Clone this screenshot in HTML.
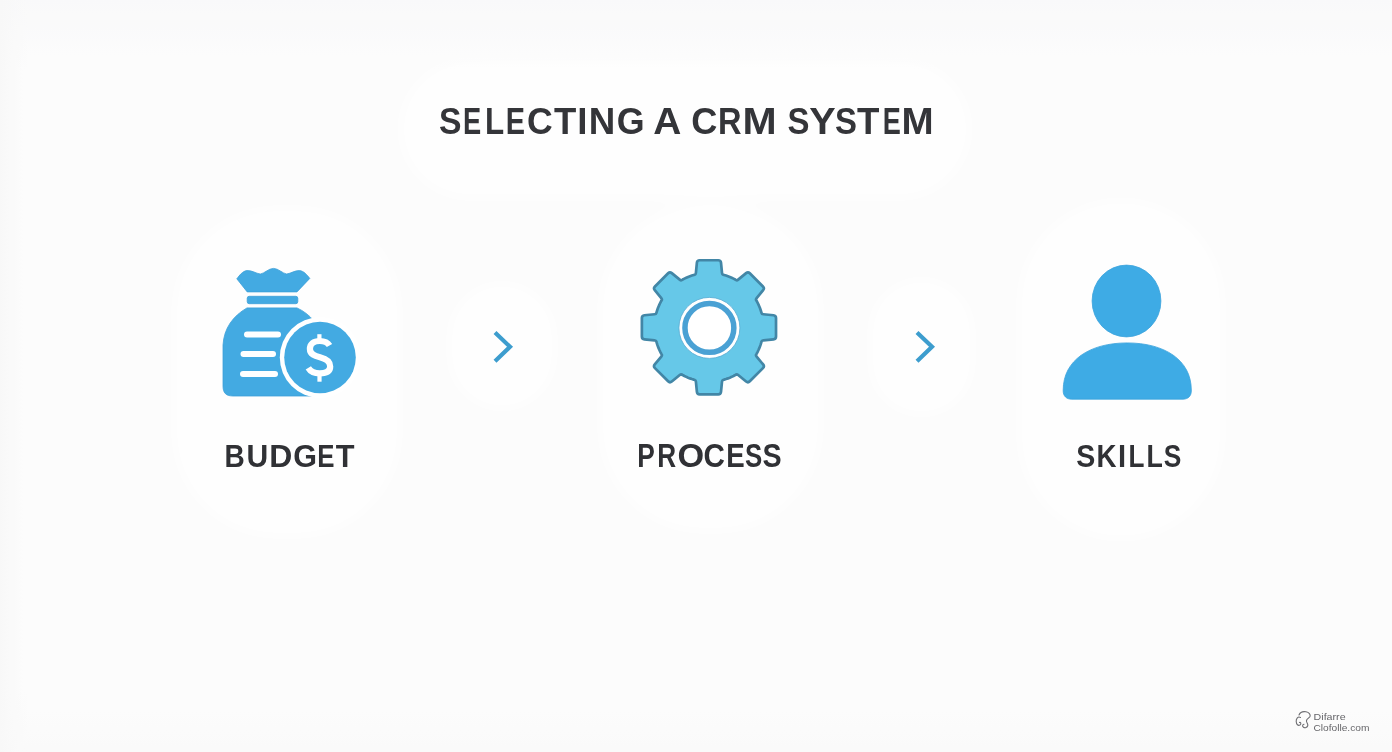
<!DOCTYPE html>
<html>
<head>
<meta charset="utf-8">
<style>
html,body{margin:0;padding:0;}
body{width:1392px;height:752px;overflow:hidden;background:#fcfcfc;font-family:"Liberation Sans",sans-serif;}
svg{display:block;position:absolute;left:0;top:0;}
</style>
</head>
<body>
<svg width="1392" height="752" viewBox="0 0 1392 752">
  <defs>
    <radialGradient id="halo" cx="50%" cy="50%" r="50%">
      <stop offset="0" stop-color="#ffffff"/>
      <stop offset="0.85" stop-color="#ffffff"/>
      <stop offset="1" stop-color="#ffffff" stop-opacity="0"/>
    </radialGradient>
    <linearGradient id="topg" x1="0" y1="0" x2="0" y2="1">
      <stop offset="0" stop-color="#f6f6f7" stop-opacity="1"/>
      <stop offset="1" stop-color="#f6f6f7" stop-opacity="0"/>
    </linearGradient>
    <linearGradient id="bot" x1="0" y1="0" x2="0" y2="1">
      <stop offset="0" stop-color="#f7f7f7" stop-opacity="0"/>
      <stop offset="1" stop-color="#f7f7f7" stop-opacity="0.8"/>
    </linearGradient>
    <linearGradient id="leftg" x1="0" y1="0" x2="1" y2="0">
      <stop offset="0" stop-color="#f5f5f5" stop-opacity="1"/>
      <stop offset="1" stop-color="#f5f5f5" stop-opacity="0"/>
    </linearGradient>
    <filter id="soft" x="-20%" y="-20%" width="140%" height="140%"><feGaussianBlur stdDeviation="9"/></filter>
  </defs>
  <rect x="0" y="0" width="1392" height="752" fill="#fbfbfb"/>
  <rect x="0" y="0" width="1392" height="70" fill="url(#topg)"/>
  <rect x="0" y="690" width="1392" height="62" fill="url(#bot)"/>
  <rect x="0" y="0" width="28" height="752" fill="url(#leftg)"/>
  <!-- halos -->
  <g filter="url(#soft)">
  <rect x="402" y="62" width="566" height="134" rx="67" fill="#ffffff" opacity="0.7"/>
  <rect x="177" y="211" width="220" height="322" rx="100" fill="#ffffff" opacity="0.8"/>
  <rect x="452" y="286" width="100" height="120" rx="50" fill="#ffffff" opacity="0.8"/>
  <rect x="603" y="208" width="215" height="320" rx="100" fill="#ffffff" opacity="0.8"/>
  <rect x="873" y="282" width="97" height="130" rx="48" fill="#ffffff" opacity="0.8"/>
  <rect x="1022" y="203" width="198" height="333" rx="99" fill="#ffffff" opacity="0.8"/>
  </g>
  <rect x="0" y="0" width="1392" height="752" fill="#ffffff" opacity="0.35"/>

  <!-- title -->
  <g font-family="Liberation Sans" font-weight="700" fill="#343539"><text transform="translate(439.03 134.00) scale(0.8922 1)" font-size="37.79">S</text><text transform="translate(462.88 134.00) scale(0.7216 1)" font-size="37.79">E</text><text transform="translate(485.10 134.00) scale(0.8302 1)" font-size="37.79">L</text><text transform="translate(505.87 134.00) scale(0.7641 1)" font-size="37.79">E</text><text transform="translate(527.04 134.00) scale(0.9430 1)" font-size="37.79">C</text><text transform="translate(554.09 134.00) scale(0.9661 1)" font-size="37.79">T</text><text transform="translate(577.24 134.00) scale(0.9736 1)" font-size="37.79">I</text><text transform="translate(588.84 134.00) scale(0.9722 1)" font-size="37.79">N</text><text transform="translate(616.83 134.00) scale(0.9490 1)" font-size="37.79">G</text><text transform="translate(653.23 134.00) scale(1.0294 1)" font-size="37.79">A</text><text transform="translate(691.31 134.00) scale(0.9592 1)" font-size="37.79">C</text><text transform="translate(717.92 134.00) scale(0.8629 1)" font-size="37.79">R</text><text transform="translate(742.55 134.00) scale(1.0861 1)" font-size="37.79">M</text><text transform="translate(787.45 134.00) scale(0.8701 1)" font-size="37.79">S</text><text transform="translate(809.22 134.00) scale(1.0479 1)" font-size="37.79">Y</text><text transform="translate(835.05 134.00) scale(0.8701 1)" font-size="37.79">S</text><text transform="translate(857.09 134.00) scale(0.9706 1)" font-size="37.79">T</text><text transform="translate(882.69 134.00) scale(0.7169 1)" font-size="37.79">E</text><text transform="translate(901.62 134.00) scale(1.0218 1)" font-size="37.79">M</text></g>

  <!-- BUDGET icon: money bag -->
  <g fill="#43aae2" stroke="#3d9fd8" stroke-width="0.8">
    <path d="M236.8 278.8 C239.5 275.5 242.5 271 247 270.6 C252 270.2 256 273.5 260.3 274 C264.5 273.5 268.5 268.4 273.5 268.4 C278.5 268.4 282.5 273.5 286.7 274 C291 273.5 295 270.2 299.5 270.6 C304 271 307 275 309.8 278.4 L297 291.9 L247.2 291.9 Z"/>
    <rect x="247.2" y="296.3" width="50.6" height="7.4" rx="2"/>
    <path d="M247 307.9 L297 307.9 C310 314 320 325 322 340 L322 386 C322 393 318 396 311 396 L233 396 C226 396 223 393 223 386 L223 345 C224 328 233 316 247 307.9 Z"/>
  </g>
  <g stroke="#ffffff" stroke-width="6" stroke-linecap="round">
    <line x1="247" y1="334.4" x2="278" y2="334.4"/>
    <line x1="243.5" y1="354" x2="273" y2="354"/>
    <line x1="243" y1="373.9" x2="275" y2="373.9"/>
  </g>
  <circle cx="320" cy="357.5" r="40.2" fill="#ffffff"/>
  <circle cx="320" cy="357.5" r="35.8" fill="#43aae2"/>
  <g fill="none" stroke="#ffffff" stroke-width="6.2" stroke-linecap="butt">
    <path d="M329.5 345.5 C327.5 342 324 341 319.8 341 C313.5 341 309.9 344 309.9 349 C309.9 354.5 315 356 320 357.3 C326 358.8 330.2 361 330.2 366.5 C330.2 371.5 325.5 373.3 319.8 373.3 C314.5 373.3 310.5 371.5 308.3 367.8"/>
  </g>
  <rect x="317.3" y="334.2" width="4.2" height="6" fill="#ffffff"/>
  <rect x="317.4" y="375" width="4.2" height="6.7" fill="#ffffff"/>

  <!-- chevrons -->
  <g fill="none" stroke="#3d9dce" stroke-width="4.2" stroke-linecap="butt" stroke-linejoin="miter">
    <polyline points="495,332.5 510,346.8 495,361.2"/>
    <polyline points="917,332.5 932,346.8 917,361.2"/>
  </g>

  <!-- PROCESS icon: gear -->
  <g><path d="M694.86 274.66 Q695.75 274.42 695.90 272.93 L696.90 262.72 Q697.15 260.23 699.65 260.23 L718.25 260.23 Q720.75 260.23 721.00 262.72 L722.00 272.93 Q722.15 274.42 723.04 274.66 L724.10 274.95 L726.02 275.54 L727.93 276.21 L729.81 276.95 L731.66 277.75 L733.47 278.63 L735.26 279.57 L736.21 280.12 Q737.01 280.58 738.17 279.62 L746.10 273.12 Q748.03 271.53 749.80 273.30 L762.95 286.45 Q764.72 288.22 763.13 290.15 L756.63 298.08 Q755.67 299.24 756.13 300.04 L756.68 300.99 L757.62 302.78 L758.50 304.59 L759.30 306.44 L760.04 308.32 L760.71 310.23 L761.30 312.15 L761.59 313.21 Q761.83 314.10 763.32 314.25 L773.53 315.25 Q776.02 315.50 776.02 318.00 L776.02 336.60 Q776.02 339.10 773.53 339.35 L763.32 340.35 Q761.83 340.50 761.59 341.39 L761.30 342.45 L760.71 344.37 L760.04 346.28 L759.30 348.16 L758.50 350.01 L757.62 351.82 L756.68 353.61 L756.13 354.56 Q755.67 355.36 756.63 356.52 L763.13 364.45 Q764.72 366.38 762.95 368.15 L749.80 381.30 Q748.03 383.07 746.10 381.48 L738.17 374.98 Q737.01 374.02 736.21 374.48 L735.26 375.03 L733.47 375.97 L731.66 376.85 L729.81 377.65 L727.93 378.39 L726.02 379.06 L724.10 379.65 L723.04 379.94 Q722.15 380.18 722.00 381.67 L721.00 391.88 Q720.75 394.37 718.25 394.37 L699.65 394.37 Q697.15 394.37 696.90 391.88 L695.90 381.67 Q695.75 380.18 694.86 379.94 L693.80 379.65 L691.88 379.06 L689.97 378.39 L688.09 377.65 L686.24 376.85 L684.43 375.97 L682.64 375.03 L681.69 374.48 Q680.89 374.02 679.73 374.98 L671.80 381.48 Q669.87 383.07 668.10 381.30 L654.95 368.15 Q653.18 366.38 654.77 364.45 L661.27 356.52 Q662.23 355.36 661.77 354.56 L661.22 353.61 L660.28 351.82 L659.40 350.01 L658.60 348.16 L657.86 346.28 L657.19 344.37 L656.60 342.45 L656.31 341.39 Q656.07 340.50 654.58 340.35 L644.37 339.35 Q641.88 339.10 641.88 336.60 L641.88 318.00 Q641.88 315.50 644.37 315.25 L654.58 314.25 Q656.07 314.10 656.31 313.21 L656.60 312.15 L657.19 310.23 L657.86 308.32 L658.60 306.44 L659.40 304.59 L660.28 302.78 L661.22 300.99 L661.77 300.04 Q662.23 299.24 661.27 298.08 L654.77 290.15 Q653.18 288.22 654.95 286.45 L668.10 273.30 Q669.87 271.53 671.80 273.12 L679.73 279.62 Q680.89 280.58 681.69 280.12 L682.64 279.57 L684.43 278.63 L686.24 277.75 L688.09 276.95 L689.97 276.21 L691.88 275.54 L693.80 274.95 Z" fill="#66c8e8" stroke="#4286a6" stroke-width="2.7" stroke-linejoin="round"/><circle cx="709.4" cy="327.9" r="30.5" fill="#ffffff" stroke="#57abd3" stroke-width="0.8"/><circle cx="709.4" cy="327.9" r="24.45" fill="none" stroke="#4aa1d4" stroke-width="5.5"/></g>


  <!-- SKILLS icon: person -->
  <g fill="#3eabe5" stroke="#3aa2dc" stroke-width="0.8">
    <ellipse cx="1126.5" cy="301" rx="34.4" ry="35.9"/>
    <path d="M1063.2 390 C1063.2 360 1090 342.9 1127.2 342.9 C1164.5 342.9 1191.3 360 1191.3 390 L1191.3 391 C1191.3 396 1188 399.2 1183 399.2 L1071.5 399.2 C1066.5 399.2 1063.2 396 1063.2 391 Z"/>
  </g>

  <!-- labels -->
  <g font-family="Liberation Sans" font-weight="700" fill="#303135"><text transform="translate(224.62 466.80) scale(0.8689 1)" font-size="32.27">B</text><text transform="translate(246.39 466.80) scale(0.9332 1)" font-size="32.27">U</text><text transform="translate(269.16 466.80) scale(0.9904 1)" font-size="32.27">D</text><text transform="translate(293.15 466.80) scale(0.9461 1)" font-size="32.27">G</text><text transform="translate(317.37 466.80) scale(0.8010 1)" font-size="32.27">E</text><text transform="translate(335.85 466.80) scale(0.9526 1)" font-size="32.27">T</text></g><g font-family="Liberation Sans" font-weight="700" fill="#303135"><text transform="translate(637.24 466.90) scale(0.8123 1)" font-size="32.41">P</text><text transform="translate(657.15 466.90) scale(0.8068 1)" font-size="32.41">R</text><text transform="translate(677.40 466.90) scale(1.0568 1)" font-size="32.41">O</text><text transform="translate(703.58 466.90) scale(0.9154 1)" font-size="32.41">C</text><text transform="translate(726.15 466.90) scale(0.8523 1)" font-size="32.41">E</text><text transform="translate(744.95 466.90) scale(0.7982 1)" font-size="32.41">S</text><text transform="translate(762.57 466.90) scale(0.8857 1)" font-size="32.41">S</text></g><g font-family="Liberation Sans" font-weight="700" fill="#303135"><text transform="translate(1076.18 466.80) scale(0.8885 1)" font-size="32.12">S</text><text transform="translate(1096.45 466.80) scale(0.8626 1)" font-size="32.12">K</text><text transform="translate(1117.95 466.80) scale(0.9077 1)" font-size="32.12">I</text><text transform="translate(1128.55 466.80) scale(0.8129 1)" font-size="32.12">L</text><text transform="translate(1146.51 466.80) scale(0.8311 1)" font-size="32.12">L</text><text transform="translate(1163.74 466.80) scale(0.8210 1)" font-size="32.12">S</text></g>

  <!-- watermark -->
  <g fill="#66666a" font-family="Liberation Sans" font-size="9.6">
    <text x="1313.6" y="719.8" textLength="32" lengthAdjust="spacingAndGlyphs">Difarre</text>
    <text x="1313.4" y="731" textLength="56" lengthAdjust="spacingAndGlyphs">Clofolle.com</text>
  </g>
  <g fill="none" stroke="#6e6e72" stroke-width="1.1" stroke-linecap="round" stroke-linejoin="round">
    <path d="M1300.5 717.5 C1298 716 1296 718.5 1296.2 721.5 C1296.4 724.5 1298 726 1300 725 C1301.5 724 1300.8 722 1299.5 722.5"/>
    <path d="M1299 715 C1300 712.5 1303 711.3 1306 711.8 C1309 712.3 1310.8 714.5 1310 716.5 C1309.3 718 1307 718.5 1306.5 720.5 C1306 722.5 1308.2 723.5 1307.8 725.5 C1307.3 727.5 1305 728.3 1303.5 727.3 C1302 726.3 1302.5 724.5 1304 724.2"/>
  </g>
</svg>
</body>
</html>
